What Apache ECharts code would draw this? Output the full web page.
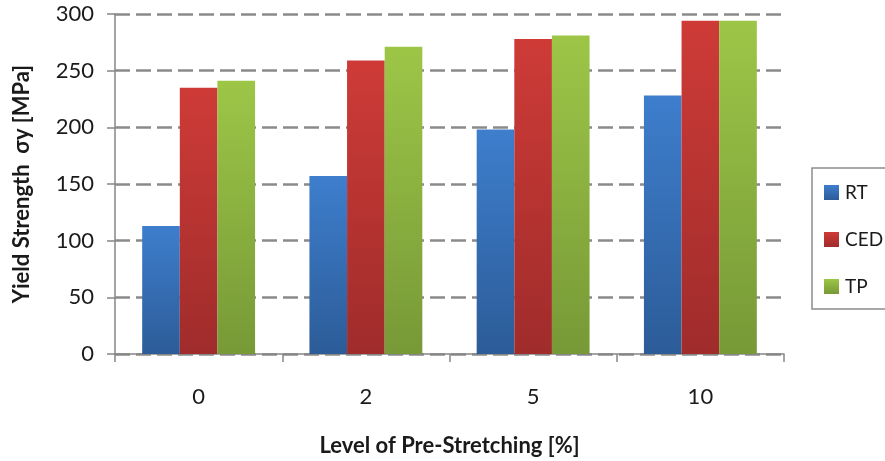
<!DOCTYPE html>
<html>
<head>
<meta charset="utf-8">
<script src="https://cdn.jsdelivr.net/npm/echarts@6/dist/echarts.min.js"></script>
<style>
  html, body { margin: 0; padding: 0; background: #fff; }
  #chart { width: 885px; height: 461px; }
</style>
</head>
<body>
<div id="chart"></div>
<script>
// Yield strength per pre-stretching level, three treatments
const categories = ['0', '2', '5', '10'];
const rtValues = [113, 157, 198, 228];
const cedValues = [235, 259, 278, 294];
const tpValues = [241, 271, 281, 294];
const yTicks = { min: 0, max: 300, interval: 50 };

const FONT = 'Lato, "Open Sans", sans-serif';

function vGrad(top, bottom) {
  return new echarts.graphic.LinearGradient(0, 0, 0, 1, [
    { offset: 0, color: top },
    { offset: 1, color: bottom }
  ]);
}

const palette = {
  RT: vGrad('#3e7ecd', '#2c5c98'),
  CED: vGrad('#ce3b37', '#9f2c2b'),
  TP: vGrad('#9dc647', '#779937')
};

function barSeries(name, data) {
  return {
    name: name,
    type: 'bar',
    data: data,
    barGap: '0%',
    barCategoryGap: '32.5%',
    itemStyle: { color: palette[name] }
  };
}

const chart = echarts.init(document.getElementById('chart'), null, { renderer: 'canvas' });
chart.setOption({
  animation: false,
  backgroundColor: '#ffffff',
  grid: {
    left: 115, right: 101, top: 14, bottom: 107,
    containLabel: false,
    outerBoundsMode: 'none'
  },
  legend: {
    orient: 'vertical',
    left: 812,
    top: 168,
    padding: [15, 30, 13, 12],
    itemGap: 28,
    itemWidth: 15,
    itemHeight: 15,
    borderColor: '#8c8c8c',
    borderWidth: 1.5,
    icon: 'rect',
    data: ['RT', 'CED', 'TP'],
    textStyle: { fontFamily: FONT, fontSize: 19, color: '#1a1a1a', padding: [0, 0, 0, 1] }
  },
  xAxis: {
    type: 'category',
    data: categories,
    name: 'Level of Pre-Stretching [%]',
    nameLocation: 'middle',
    nameGap: 81,
    nameTextStyle: { fontFamily: FONT, fontSize: 22, fontWeight: 'bold', color: '#1a1a1a' },
    axisLine: { lineStyle: { color: '#868686', width: 1.5 } },
    axisTick: { show: true, length: 8, lineStyle: { color: '#868686', width: 1.5 } },
    axisLabel: { fontFamily: FONT, fontSize: 22, color: '#1a1a1a', margin: 32 }
  },
  yAxis: {
    type: 'value',
    min: yTicks.min,
    max: yTicks.max,
    interval: yTicks.interval,
    name: 'Yield Strength  σy [MPa]',
    nameLocation: 'middle',
    nameGap: 82,
    nameRotate: 90,
    nameTextStyle: { fontFamily: FONT, fontSize: 22, fontWeight: 'bold', color: '#1a1a1a' },
    axisLine: { show: true, lineStyle: { color: '#868686', width: 1.5 } },
    axisTick: { show: true, length: 8, lineStyle: { color: '#868686', width: 1.5 } },
    axisLabel: { fontFamily: FONT, fontSize: 22, color: '#1a1a1a', margin: 21 },
    splitLine: {
      show: true,
      lineStyle: { color: '#8a8a8a', width: 2.5, type: [15, 6] }
    }
  },
  series: [
    barSeries('RT', rtValues),
    barSeries('CED', cedValues),
    barSeries('TP', tpValues)
  ]
});
</script>
</body>
</html>
